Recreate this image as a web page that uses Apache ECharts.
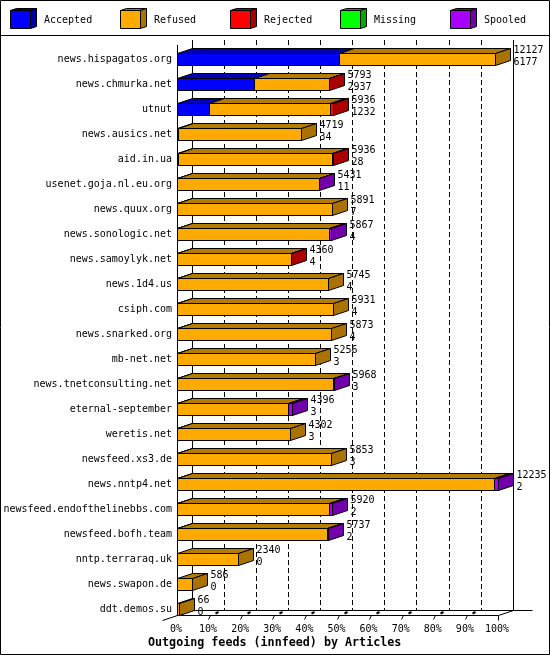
<!DOCTYPE html>
<html><head><meta charset="utf-8">
<style>html,body{margin:0;padding:0;background:#fff}#c{width:550px;height:655px}</style>
<script src="https://cdn.jsdelivr.net/npm/echarts@6/dist/echarts.min.js"></script>
</head><body><div id="c"></div>
<script>
const hosts = ["news.hispagatos.org","news.chmurka.net","utnut","news.ausics.net","aid.in.ua","usenet.goja.nl.eu.org","news.quux.org","news.sonologic.net","news.samoylyk.net","news.1d4.us","csiph.com","news.snarked.org","mb-net.net","news.tnetconsulting.net","eternal-september","weretis.net","newsfeed.xs3.de","news.nntp4.net","newsfeed.endofthelinebbs.com","newsfeed.bofh.team","nntp.terraraq.uk","news.swapon.de","ddt.demos.su"];
const accepted = [6177,2937,1232,34,28,11,7,4,4,4,4,4,3,3,3,3,3,2,2,2,0,0,0];
const refused  = [5950,2841,4604,4685,5878,5400,5884,5793,4341,5741,5927,5869,5253,5940,4243,4299,5850,12083,5788,5715,2340,586,66];
const rejected = [0,15,100,0,30,0,0,0,15,0,0,0,0,0,0,0,0,0,0,0,0,0,0];
const missing  = [0,0,0,0,0,0,0,0,0,0,0,0,0,0,0,0,0,0,0,0,0,0,0];
const spooled  = [0,0,0,0,0,20,0,70,0,0,0,0,0,25,150,0,0,150,130,20,0,0,0];
const seriesNames = ["Accepted","Refused","Rejected","Missing","Spooled"];
const seriesColors = ["#0000ff","#ffaa00","#ff0000","#00ff00","#aa00ff"];
const seriesDark = ["#0000aa","#aa7200","#aa0000","#00aa00","#7200aa"];
const seriesTop = ["#0000b4","#b47c00","#b40000","#00b400","#7c00b4"];
const percentTicks = [0,10,20,30,40,50,60,70,80,90,100];
const seriesValues = [accepted,refused,rejected,missing,spooled];
const maxArticles = 12235;

const DX = 15, DY = 5, BAR_H = 12;
const MONO = '"DejaVu Sans Mono", monospace';
const snap = v => Math.round(v) + 0.5;

function poly(points, fill, z2) {
  return {type:'polygon', shape:{points}, z2: z2 || 0,
    style:{fill, stroke:'#000', lineWidth:1}};
}
function barItem(params, api) {
  const i = api.value(0);
  const y0 = snap(api.coord([0, i])[1]);
  const yTop = y0, yBot = y0 + BAR_H;
  const children = [];
  let cum = 0, last = -1;
  const px = v => snap(api.coord([v / maxArticles * 100, i])[0]);
  seriesValues.forEach((vals, s) => { if (vals[i] > 0) last = s; });
  seriesValues.forEach((vals, s) => {
    const v = vals[i];
    if (!v) return;
    const a = px(cum), b = px(cum + v);
    cum += v;
    children.push(poly([[a,yTop],[a+DX,yTop-DY],[b+DX,yTop-DY],[b,yTop]], seriesTop[s]));
    children.push(poly([[a,yTop],[b,yTop],[b,yBot],[a,yBot]], seriesColors[s], 1));
  });
  const end = px(cum);
  children.push(poly([[end,yTop],[end+DX,yTop-DY],[end+DX,yBot-DY],[end,yBot]], seriesDark[last], 1));
  const tx = end + DX + 3;
  children.push({type:'text', z2:5, style:{text:String(cum), x:tx, y:y0-3, fill:'#000', font:'10px '+MONO, verticalAlign:'middle', align:'left'}});
  children.push({type:'text', z2:5, style:{text:String(accepted[i]), x:tx, y:y0+9, fill:'#000', font:'10px '+MONO, verticalAlign:'middle', align:'left'}});
  return {type:'group', children};
}
function frameItem(params, api) {
  const t = api.value(0);
  const cs = params.coordSys;
  const x = snap(api.coord([t, 0])[0]);
  const y = cs.y + cs.height + 0.5;
  const line = (x1,y1,x2,y2,w) => ({type:'line', shape:{x1,y1,x2,y2}, style:{stroke:'#000', lineWidth:w||1}});
  const children = [];
  if (t === 0) {
    children.push(line(x-15, y+5, x+DX, y-DY));
    children.push(line(x, cs.y+5, x, y));
    children.push(line(x+DX, cs.y, x+DX, y-DY));
    children.push(line(x+DX, y-DY, 532.5, y-DY));
  } else if (t === 100) {
    children.push(line(x, y, x, y+5));
    children.push(line(x, y, x+DX, y-DY));
    children.push(line(x+DX, cs.y, x+DX, y-DY));
  } else {
    children.push(line(x-1, y+4, x+1, y));
    children.push(line(x+6, y-2, x+9, y-3.5, 2));
  }
  return {type:'group', children};
}

const graphics = [
  {type:'rect', shape:{x:0.5,y:0.5,width:549,height:654}, style:{fill:null,stroke:'#000',lineWidth:1}, z:100},
  {type:'line', shape:{x1:0,y1:35.5,x2:550,y2:35.5}, style:{stroke:'#000',lineWidth:1}, z:100}
];
seriesNames.forEach((name, k) => {
  const x = 10.5 + 110*k, y = 10.5, w = 20, h = 18, dx = 6, dy = 2;
  const shapes = [
    [[x,y],[x+dx,y-dy],[x+w+dx,y-dy],[x+w,y]],
    [[x+w,y],[x+w+dx,y-dy],[x+w+dx,y+h-dy],[x+w,y+h]]
  ];
  shapes.forEach(p => graphics.push({type:'polygon', shape:{points:p}, style:{fill:seriesDark[k],stroke:'#000',lineWidth:1}, z:100}));
  graphics.push({type:'rect', shape:{x,y,width:w,height:h}, style:{fill:seriesColors[k],stroke:'#000',lineWidth:1}, z:100});
  graphics.push({type:'text', left:44+110*k, top:15, style:{text:name, fill:'#000', font:'10px '+MONO}, z:100});
});

const chart = echarts.init(document.getElementById('c'), null, {renderer:'canvas'});
chart.setOption({
  animation:false,
  backgroundColor:'#fff',
  title:{text:'Outgoing feeds (innfeed) by Articles', left:148, top:637, padding:0,
    textStyle:{fontFamily:MONO, fontSize:11.7, fontWeight:'bold', color:'#000'}},
  graphic:graphics,
  grid:[
    {left:177, top:40, width:321, height:575, containLabel:false},
    {left:192, top:40, width:321, height:570, containLabel:false}
  ],
  xAxis:[
    {type:'value', gridIndex:0, min:0, max:100, interval:10,
     axisLine:{show:true, onZero:false, lineStyle:{color:'#000',width:1}}, axisTick:{show:false}, splitLine:{show:false},
     axisLabel:{formatter:'{value}%', margin:9, padding:[0,2,0,0], fontFamily:MONO, fontSize:10, color:'#000', hideOverlap:false}},
    {type:'value', gridIndex:1, min:0, max:100, interval:10,
     axisLine:{show:false}, axisTick:{show:false}, axisLabel:{show:false},
     splitLine:{show:true, lineStyle:{color:'#000',type:[5,3],width:1}}}
  ],
  yAxis:[
    {type:'category', gridIndex:0, inverse:true, data:hosts,
     axisLine:{show:false}, axisTick:{show:false}, splitLine:{show:false},
     axisLabel:{margin:5, interval:0, fontFamily:MONO, fontSize:10, color:'#000', align:'right', verticalAlign:'top', lineHeight:14}},
    {type:'value', gridIndex:1, show:false, min:0, max:1, splitLine:{show:false}}
  ],
  series:[
    {type:'custom', name:'frame', xAxisIndex:0, yAxisIndex:0, z:1, clip:false, silent:true,
     data:percentTicks.map(t => [t]), renderItem:frameItem, encode:{x:0}},
    {type:'custom', name:'articles', xAxisIndex:0, yAxisIndex:0, z:3, clip:false, silent:true,
     data:hosts.map((h,i) => [i]), renderItem:barItem, encode:{y:0}}
  ]
});
</script></body></html>
